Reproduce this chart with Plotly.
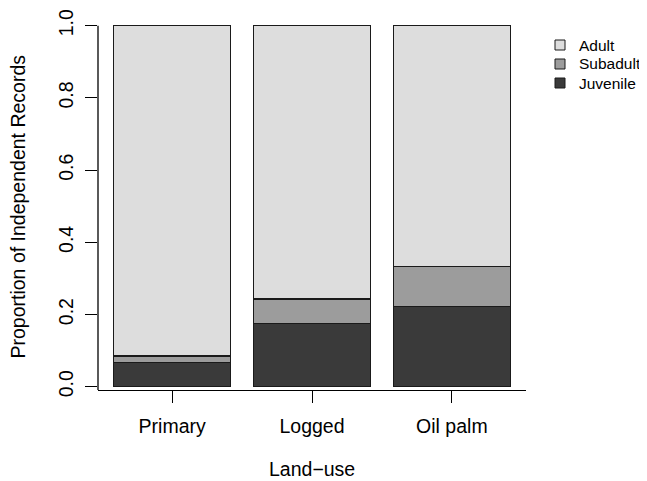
import plotly.graph_objects as go

# ---- data ----
land_use = ["Primary", "Logged", "Oil palm"]
juvenile = [0.068, 0.176, 0.223]
subadult = [0.017, 0.067, 0.111]
adult = [0.915, 0.757, 0.666]
series_names = ["Juvenile", "Subadult", "Adult"]
series_values = [juvenile, subadult, adult]
series_colors = ["#3A3A3A", "#9C9C9C", "#DDDDDD"]
y_ticks = [0.0, 0.2, 0.4, 0.6, 0.8, 1.0]
y_tick_text = ["0.0", "0.2", "0.4", "0.6", "0.8", "1.0"]
x_title = "Land\u2212use"
y_title = "Proportion of Independent Records"

FONT = "Liberation Sans, Arial, Helvetica, sans-serif"
OFF = 8  # default page body margin
W, H = 647 - OFF, 481 - OFF
# plot area in page pixels: x 98..526, y 11..390
ML = 98 - OFF
MR = W - (526 - OFF)
MT = 11 - OFF
MB = H - (390 - OFF)
PW, PH = W - ML - MR, H - MT - MB
Y0, Y1 = -0.0091, 1.0408


def px_x(p):  # page pixel -> paper x
    return (p - OFF - ML) / PW


def px_y(p):  # page pixel -> paper y
    return (H - MB - (p - OFF)) / PH


fig = go.Figure()
for name, vals, col in zip(series_names, series_values, series_colors):
    fig.add_trace(go.Bar(
        x=land_use, y=vals, name=name,
        marker=dict(color=col, line=dict(color="#1A1A1A", width=1.2)),
        showlegend=False,
    ))

# manual legend (R-style), top to bottom: Adult, Subadult, Juvenile
leg_rows = [45, 64, 83]
shapes = []
annotations = []
for row, (name, col) in zip(leg_rows, zip(series_names[::-1], series_colors[::-1])):
    shapes.append(dict(type="rect", xref="paper", yref="paper",
                       x0=px_x(555), x1=px_x(565), y0=px_y(row + 5), y1=px_y(row - 5),
                       fillcolor=col, line=dict(color="#1A1A1A", width=1)))
    annotations.append(dict(text=name, xref="paper", yref="paper",
                            x=px_x(577), y=px_y(row), xanchor="left", yanchor="middle",
                            showarrow=False, font=dict(family=FONT, size=15.5, color="black")))

# axis titles
annotations.append(dict(text=x_title, xref="paper", yref="paper", borderpad=0,
                        x=px_x(312), y=px_y(469.5), xanchor="center", yanchor="middle",
                        showarrow=False, font=dict(family=FONT, size=19.5, color="black")))
annotations.append(dict(text=y_title, xref="paper", yref="paper", textangle=-90,
                        x=px_x(17.5), y=px_y(207), xanchor="center", yanchor="middle",
                        showarrow=False, font=dict(family=FONT, size=19.5, color="black")))

# y axis line from bottom axis up to 1.0
shapes.append(dict(type="line", xref="paper", yref="y", x0=0, x1=0, y0=Y0, y1=1.0,
                   line=dict(color="black", width=1.3)))

fig.update_layout(
    width=W, height=H,
    margin=dict(l=ML, r=MR, t=MT, b=MB, pad=0, autoexpand=False),
    barmode="stack", bargap=1 - 1 / 1.2,
    plot_bgcolor="white", paper_bgcolor="white",
    font=dict(family=FONT, size=19.5, color="black"),
    shapes=shapes, annotations=annotations,
    xaxis=dict(
        type="category", range=[-0.53, 2.53], automargin=False,
        showline=True, linecolor="black", linewidth=1.3,
        ticks="outside", ticklen=12, tickwidth=1.3, tickcolor="black",
        showgrid=False, zeroline=False, ticklabelstandoff=6,
        tickfont=dict(family=FONT, size=19.5, color="black"),
    ),
    yaxis=dict(
        range=[Y0, Y1], tickvals=y_ticks, ticktext=y_tick_text, automargin=False,
        showline=False, ticks="outside", ticklen=12, tickwidth=1.3, tickcolor="black",
        showgrid=False, zeroline=False, tickangle=-90, ticklabelstandoff=4,
        tickfont=dict(family=FONT, size=19.5, color="black"),
    ),
)

fig.write_html("out.html")
